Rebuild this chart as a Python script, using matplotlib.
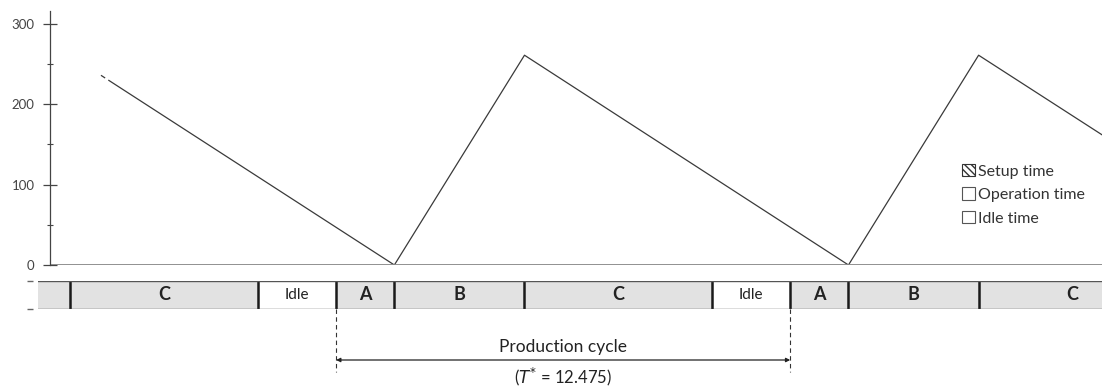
import matplotlib.pyplot as plt
from matplotlib.patches import Rectangle, Patch

plt.rcParams['font.family'] = ['Lato', 'DejaVu Sans']

# inventory level (time units, units)
inv_t = [1.4, 9.46, 13.035, 21.935, 25.51, 28.9]
inv_v = [236, 0, 261, 0, 261, 162]

# production schedule strip
seq_start = -0.33
seq_labels = ['', 'C', 'Idle', 'A', 'B', 'C', 'Idle', 'A', 'B', 'C']
seq_durations = [0.89, 5.15, 2.15, 1.6, 3.575, 5.15, 2.15, 1.6, 3.575, 5.15]
cycle_start, cycle_len = 7.86, 12.475

yticks = [0, 100, 200, 300]
xmax = 28.9

W, H = 1102, 387
fig = plt.figure(figsize=(W / 100, H / 100), dpi=100)

def px_rect(x0, y0, x1, y1):
    return [x0 / W, 1 - y1 / H, (x1 - x0) / W, (y1 - y0) / H]

# --- inventory plot
ax = fig.add_axes(px_rect(50, 11, 1102, 265))
# first stretch starts with a short broken dash, as in the original
ax.plot(inv_t[:2], inv_v[:2], color='#3a3a3a', lw=0.9, ls=(0, (4, 3, 2000, 1)))
ax.plot(inv_t[1:], inv_v[1:], color='#3a3a3a', lw=0.9)
ax.axhline(0, color='#888', lw=1.3)
ax.set_xlim(0, xmax)
ax.set_ylim(0, 316)
for s in ['top', 'right', 'bottom']:
    ax.spines[s].set_visible(False)
ax.spines['left'].set_color('#444')
ax.spines['left'].set_linewidth(0.9)
ax.set_xticks([])
ax.set_yticks(yticks)
ax.set_yticks([50, 150, 250], minor=True)
ax.tick_params(axis='y', which='major', direction='inout', length=10, width=0.9,
               color='#444', labelsize=9.5, labelcolor='#444', pad=6)
ax.tick_params(axis='y', which='minor', direction='inout', length=4, width=0.8, color='#444')

handles = [Patch(facecolor='white', edgecolor='#333', hatch='\\\\\\\\\\', lw=0.8),
           Patch(facecolor='white', edgecolor='#555', lw=0.8),
           Patch(facecolor='white', edgecolor='#555', lw=0.8)]
fig.legend(handles, ['Setup time', 'Operation time', 'Idle time'],
           loc='upper left', bbox_to_anchor=(962 / W, 1 - 164 / H),
           frameon=False, fontsize=11.5, handlelength=0.8, handleheight=0.8,
           handletextpad=0.2, labelspacing=0.55, borderaxespad=0, borderpad=0,
           labelcolor='#333')

# --- schedule strip
sx = fig.add_axes(px_rect(38, 281, 1102, 309))
sx.set_xlim(seq_start, xmax)
sx.set_ylim(0, 1)
sx.axis('off')
t = seq_start
for lab, d in zip(seq_labels, seq_durations):
    fc = 'white' if lab == 'Idle' else '#e2e2e2'
    sx.add_patch(Rectangle((t, 0), d, 1, facecolor=fc, edgecolor='none'))
    if lab and t + d / 2 < xmax:
        sx.text(t + d / 2, 0.5, lab, ha='center', va='center', color='#222',
                fontsize=11 if lab == 'Idle' else 13,
                fontweight='normal' if lab == 'Idle' else 'bold')
    t += d
    if t < xmax:
        sx.plot([t, t], [0, 1], color='#1a1a1a', lw=1.8, solid_capstyle='butt')
for y in (0, 1):
    sx.plot([seq_start, xmax], [y, y], color='#555', lw=1.0)
    sx.plot([seq_start - 0.3, seq_start - 0.15], [y, y], color='#666', lw=1.0,
            clip_on=False, solid_capstyle='butt')

# --- production cycle annotation
an = fig.add_axes(px_rect(38, 309, 1102, 387))
an.set_xlim(seq_start, xmax)
an.set_ylim(0, 78)
an.axis('off')
for xv in (cycle_start, cycle_start + cycle_len):
    an.plot([xv, xv], [78, 15], color='#333', lw=0.8, ls=(0, (4, 3)))
an.annotate('', xy=(cycle_start, 27), xytext=(cycle_start + cycle_len, 27),
            arrowprops=dict(arrowstyle='<|-|>', color='#222', lw=0.9,
                            mutation_scale=6, shrinkA=0, shrinkB=0))
mid = cycle_start + cycle_len / 2
an.text(mid, 40, 'Production cycle', ha='center', va='center', fontsize=12.5, color='#222')
an.text(mid, 10, r'($T^{*}$ = %.3f)' % cycle_len, ha='center', va='center',
        fontsize=12, color='#222')

fig.savefig('out.png', dpi=100)
